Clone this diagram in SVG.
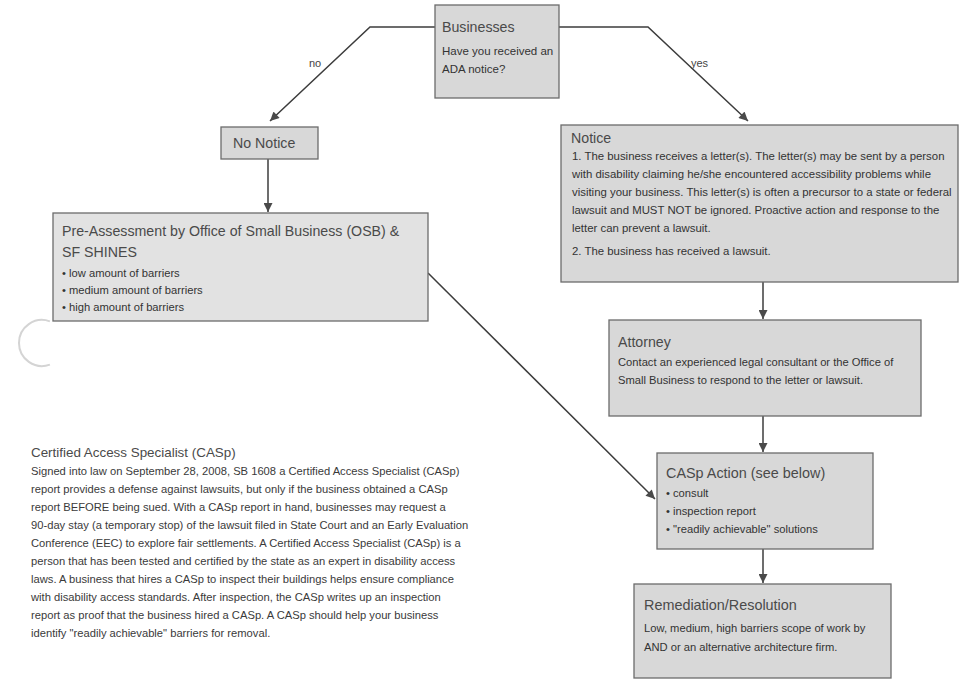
<svg xmlns="http://www.w3.org/2000/svg" width="961" height="681" viewBox="0 0 961 681">
<defs>
<marker id="ah" viewBox="0 0 10 10" refX="10" refY="5" markerWidth="10" markerHeight="9" markerUnits="userSpaceOnUse" orient="auto">
<path d="M0,0 L10,5 L0,10 Z" fill="#4a4a4a"/>
</marker>
<style>
.box{fill:#d8d8d8;stroke:#6c6c6c;stroke-width:1.3}
.light{fill:#e2e2e2}
.t{font-family:"Liberation Sans",Arial,sans-serif;fill:#4a4a4a;font-size:14.2px}
.b{font-family:"Liberation Sans",Arial,sans-serif;fill:#333;font-size:11.2px}
.p{font-family:"Liberation Sans",Arial,sans-serif;fill:#3a3a3a;font-size:11.2px}
.lbl{font-family:"Liberation Sans",Arial,sans-serif;fill:#444;font-size:11px}
.c{fill:none;stroke:#3c3c3c;stroke-width:1.5;marker-end:url(#ah)}
</style>
</defs>
<rect width="961" height="681" fill="#ffffff"/>

<g id="connectors">
<path class="c" d="M435,27 H370 L270,121"/>
<path class="c" d="M559,27 H648 L748,121"/>
<path class="c" d="M268,159 V212"/>
<path class="c" d="M763,282 V319"/>
<path class="c" d="M763,416 V452"/>
<path class="c" d="M763,549 V583"/>
<path class="c" d="M428,273 L655,499"/>
<text class="lbl" x="309" y="67">no</text>
<text class="lbl" x="691" y="67">yes</text>
</g>

<g id="businesses">
<rect class="box" x="435" y="5" width="124" height="93"/>
<text class="t" x="442" y="32">Businesses</text>
<text class="b" x="442" y="55" style="font-size:11.5px">Have you received an</text>
<text class="b" x="442" y="73" style="font-size:11.5px">ADA notice?</text>
</g>

<g id="no-notice">
<rect class="box" x="221" y="127" width="97" height="32"/>
<text class="t" x="233" y="148">No Notice</text>
</g>

<g id="pre-assessment">
<rect class="box light" x="53" y="213" width="375" height="108"/>
<text class="t" x="62" y="236">Pre-Assessment by Office of Small Business (OSB) &amp;</text>
<text class="t" x="62" y="257">SF SHINES</text>
<text class="b" x="62" y="277">• low amount of barriers</text>
<text class="b" x="62" y="294">• medium amount of barriers</text>
<text class="b" x="62" y="311">• high amount of barriers</text>
</g>

<g id="notice">
<rect class="box" x="561" y="125" width="397" height="157"/>
<text class="t" x="571" y="143">Notice</text>
<text class="b" x="572" y="160" style="font-size:11.4px">1. The business receives a letter(s). The letter(s) may be sent by a person</text>
<text class="b" x="572" y="178" style="font-size:11.4px">with disability claiming he/she encountered accessibility problems while</text>
<text class="b" x="572" y="196" style="font-size:11.4px">visiting your business. This letter(s) is often a precursor to a state or federal</text>
<text class="b" x="572" y="214" style="font-size:11.4px">lawsuit and MUST NOT be ignored. Proactive action and response to the</text>
<text class="b" x="572" y="232" style="font-size:11.4px">letter can prevent a lawsuit.</text>
<text class="b" x="572" y="255" style="font-size:11.4px">2. The business has received a lawsuit.</text>
</g>

<g id="attorney">
<rect class="box" x="609" y="320" width="312" height="96"/>
<text class="t" x="618" y="347">Attorney</text>
<text class="b" x="618" y="366">Contact an experienced legal consultant or the Office of</text>
<text class="b" x="618" y="384">Small Business to respond to the letter or lawsuit.</text>
</g>

<g id="casp-action">
<rect class="box" x="657" y="453" width="216" height="96"/>
<text class="t" x="666" y="478" style="font-size:14.4px">CASp Action (see below)</text>
<text class="b" x="666" y="497">• consult</text>
<text class="b" x="666" y="515">• inspection report</text>
<text class="b" x="666" y="533">• "readily achievable" solutions</text>
</g>

<g id="remediation">
<rect class="box" x="634" y="584" width="257" height="94"/>
<text class="t" x="644" y="610" style="font-size:14.4px">Remediation/Resolution</text>
<text class="b" x="644" y="632">Low, medium, high barriers scope of work by</text>
<text class="b" x="644" y="651">AND or an alternative architecture firm.</text>
</g>

<g id="casp-info">
<text class="t" x="31" y="457" style="font-size:13.4px">Certified Access Specialist (CASp)</text>
<text class="p" x="31" y="475">Signed into law on September 28, 2008, SB 1608 a Certified Access Specialist (CASp)</text>
<text class="p" x="31" y="493">report provides a defense against lawsuits, but only if the business obtained a CASp</text>
<text class="p" x="31" y="511">report BEFORE being sued.  With a CASp report in hand, businesses may request a</text>
<text class="p" x="31" y="529">90-day stay (a temporary stop) of the lawsuit filed in State Court and an Early Evaluation</text>
<text class="p" x="31" y="547">Conference (EEC) to explore fair settlements. A Certified Access Specialist (CASp) is a</text>
<text class="p" x="31" y="565">person that has been tested and certified by the state as an expert in disability access</text>
<text class="p" x="31" y="583">laws. A business that hires a CASp to inspect their buildings helps ensure compliance</text>
<text class="p" x="31" y="601">with disability access standards. After inspection, the CASp writes up an inspection</text>
<text class="p" x="31" y="619">report as proof that the business hired a CASp. A CASp should help your business</text>
<text class="p" x="31" y="637">identify "readily achievable" barriers for removal.</text>
</g>

<path d="M49.9,321.4 A23,23 0 1 0 49.9,364.6" fill="none" stroke="#d4d4d4" stroke-width="2"/>
</svg>
